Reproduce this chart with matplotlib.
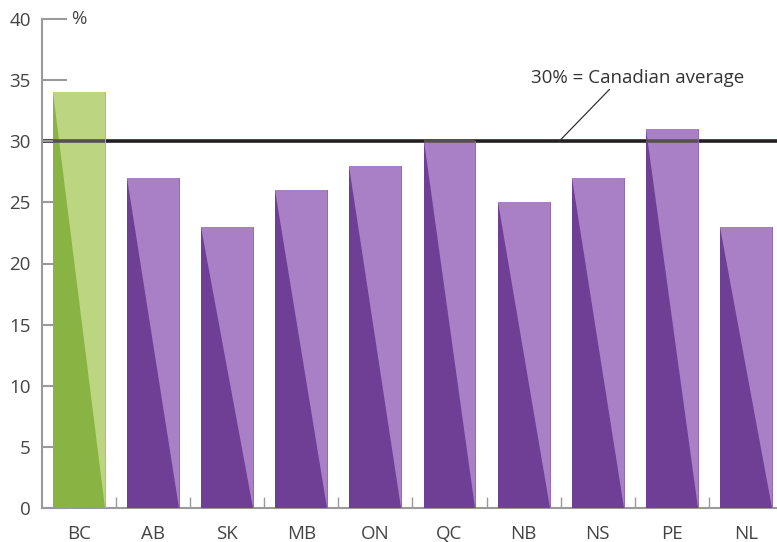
import matplotlib.pyplot as plt
from matplotlib.patches import Polygon

# provinces and percentages
provinces = ['BC', 'AB', 'SK', 'MB', 'ON', 'QC', 'NB', 'NS', 'PE', 'NL']
values = [34, 27, 23, 26, 28, 30, 25, 27, 31, 23]
average = 30
yticks = [0, 5, 10, 15, 20, 25, 30, 35, 40]

plt.rcParams['font.family'] = ['Open Sans', 'DejaVu Sans']

fig = plt.figure(figsize=(7.77, 5.42), dpi=100)
ax = fig.add_axes([42/777, 34/542, 1 - 42/777, (508 - 19)/542])

w = 0.70
# average line under bars
ax.axhline(average, color='#231f20', lw=2.6, zorder=1)

for i, v in enumerate(values):
    if provinces[i] == 'BC':
        light, dark, edge = '#bbd581', '#89b443', '#a2c462'
    else:
        light, dark, edge = '#a97fc6', '#6f3f96', '#9266b6'
    x0, x1 = i - w/2, i + w/2
    ax.bar(i, v, width=w, color=light, zorder=2, linewidth=0)
    ax.add_patch(Polygon([(x0, v), (x0, 0), (x1, 0)], closed=True,
                         facecolor=dark, edgecolor='none', zorder=3))
    ax.plot([x1, x1], [0, v], color=edge, lw=0.7, zorder=4)
    # line shows through bar in gray
    if v >= average:
        ax.plot([x0, x1], [average, average], color='#55504f', lw=2.6,
                zorder=5, solid_capstyle='butt')

ax.set_xlim(-0.5, 9.42)
ax.set_ylim(0, 40)
ax.set_yticks(yticks)
ax.set_xticks(range(len(provinces)))
ax.set_xticklabels(provinces)
ax.set_xticks([i + 0.5 for i in range(len(provinces) - 1)], minor=True)

for s in ['top', 'right']:
    ax.spines[s].set_visible(False)
for s in ['left', 'bottom']:
    ax.spines[s].set_color('#9a9a9a')
    ax.spines[s].set_linewidth(1.5)

ax.tick_params(axis='y', direction='in', length=18, width=1.5, color='#9a9a9a',
               labelsize=13.5, labelcolor='#444444', pad=8)
ax.tick_params(axis='x', which='major', length=0, labelsize=13.5,
               labelcolor='#444444', pad=12)
ax.tick_params(axis='x', which='minor', direction='in', length=8, width=1,
               color='#9a9a9a')

ax.text(0.0, 40, '%', fontsize=13.5, color='#444444', ha='center', va='center')

ax.annotate('30% = Canadian average', xy=(6.48, average), xytext=(7.54, 35.2),
            fontsize=13.5, color='#333333', ha='center', va='center',
            arrowprops=dict(arrowstyle='-', color='#333333', lw=0.9,
                            shrinkA=0, shrinkB=0, relpos=(0.38, 0)))

plt.savefig('out.png', dpi=100)
